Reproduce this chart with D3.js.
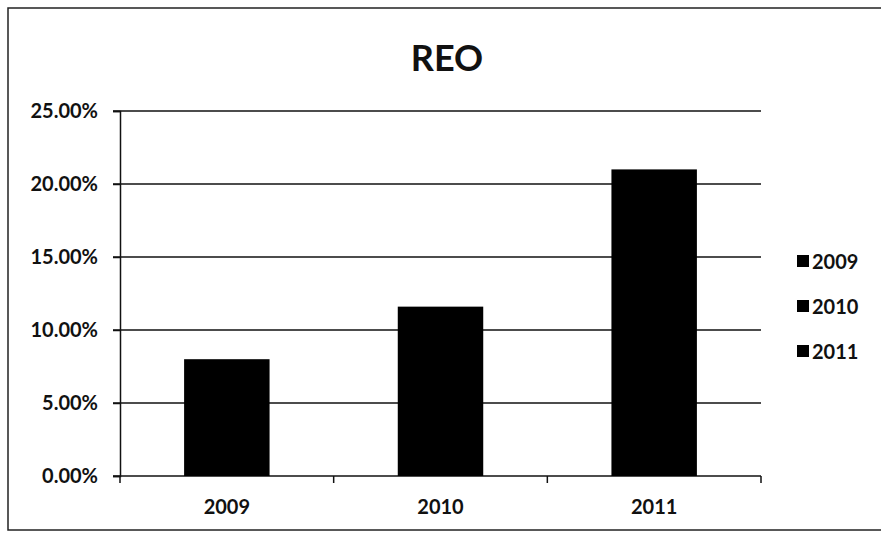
<!DOCTYPE html>
<html>
<head>
<meta charset="utf-8">
<script src="https://cdn.jsdelivr.net/npm/d3@7"></script>
<style>
  body { margin: 0; background: #fff; }
  text { font-family: Lato, "Open Sans", sans-serif; fill: #111; }
</style>
</head>
<body>
<div id="chart"></div>
<script>
const years = ["2009", "2010", "2011"];
const reoValues = [0.080, 0.116, 0.210];
const yTicks = [0, 0.05, 0.10, 0.15, 0.20, 0.25];
const legendLabels = ["2009", "2010", "2011"];

const width = 881, height = 535;
const margin = {top: 111, right: 120, bottom: 59, left: 120};

const svg = d3.select("#chart").append("svg")
  .attr("width", width)
  .attr("height", height);

// outer frame of the chart (right side runs off the page)
svg.append("rect")
  .attr("x", 8).attr("y", 8)
  .attr("width", 920).attr("height", 522)
  .attr("fill", "none")
  .attr("stroke", "#222")
  .attr("stroke-width", 1.5);

const x = d3.scaleBand()
  .domain(years)
  .range([margin.left, width - margin.right])
  .paddingInner(0.6)
  .paddingOuter(0.3);

const xEdges = d3.scaleLinear()
  .domain([0, years.length])
  .range([margin.left, width - margin.right]);

const y = d3.scaleLinear()
  .domain([0, 0.25])
  .range([height - margin.bottom, margin.top]);

const fmt = d3.format(".2%");

// gridlines
svg.append("g")
  .selectAll("line")
  .data(yTicks)
  .join("line")
  .attr("x1", margin.left - 7)
  .attr("x2", width - margin.right)
  .attr("y1", d => y(d))
  .attr("y2", d => y(d))
  .attr("stroke", "#111")
  .attr("stroke-width", 1.5);

// y axis
const yAxis = svg.append("g")
  .attr("transform", `translate(${margin.left},0)`)
  .call(d3.axisLeft(y).tickValues(yTicks).tickFormat(fmt).tickSize(7).tickPadding(15));
yAxis.select(".domain").attr("stroke", "#111").attr("stroke-width", 1.5);
yAxis.selectAll(".tick line").attr("stroke", "#111").attr("stroke-width", 1.5);
yAxis.selectAll("text")
  .style("font-size", "20px")
  .style("font-weight", "bold")
  .attr("fill", "#111");

// x axis ticks at category boundaries
svg.append("g")
  .selectAll("line")
  .data(d3.range(years.length + 1))
  .join("line")
  .attr("x1", d => xEdges(d))
  .attr("x2", d => xEdges(d))
  .attr("y1", y(0))
  .attr("y2", y(0) + 7)
  .attr("stroke", "#111")
  .attr("stroke-width", 1.5);

svg.append("g")
  .selectAll("text")
  .data(years)
  .join("text")
  .attr("x", d => x(d) + x.bandwidth() / 2)
  .attr("y", y(0) + 38)
  .attr("text-anchor", "middle")
  .style("font-size", "20px")
  .style("font-weight", "bold")
  .text(d => d);

// bars
svg.append("g")
  .selectAll("rect")
  .data(years.map((d, i) => ({year: d, value: reoValues[i]})))
  .join("rect")
  .attr("x", d => x(d.year))
  .attr("width", x.bandwidth())
  .attr("y", d => y(d.value))
  .attr("height", d => y(0) - y(d.value))
  .attr("fill", "#000");

// title
svg.append("text")
  .attr("x", 447)
  .attr("y", 71)
  .attr("text-anchor", "middle")
  .style("font-size", "36px")
  .style("font-weight", "bold")
  .text("REO");

// legend
const legend = svg.append("g")
  .attr("transform", "translate(797,262)")
  .selectAll("g")
  .data(legendLabels)
  .join("g")
  .attr("transform", (d, i) => `translate(0,${i * 45})`);

legend.append("rect")
  .attr("x", 0).attr("y", -7)
  .attr("width", 12).attr("height", 12)
  .attr("fill", "#000");

legend.append("text")
  .attr("x", 15)
  .attr("y", 0)
  .attr("dy", "0.35em")
  .style("font-size", "20px")
  .style("font-weight", "bold")
  .text(d => d);
</script>
</body>
</html>
